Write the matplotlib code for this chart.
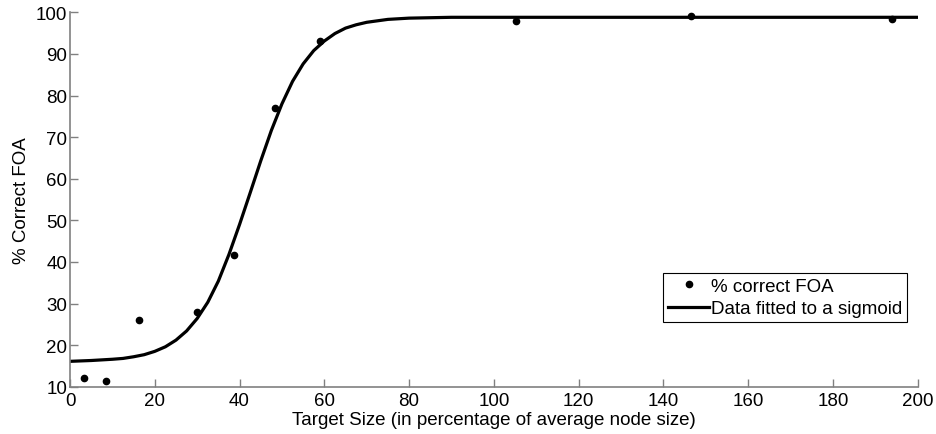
import matplotlib
matplotlib.use("Agg")
import matplotlib.pyplot as plt

# measured points (% correct FOA vs target size)
target_size = [3.3, 8.5, 16.2, 30.0, 38.8, 48.4, 59.0, 105.3, 146.4, 193.9]
pct_correct = [12.0, 11.4, 26.0, 28.0, 41.7, 76.9, 93.0, 97.9, 99.0, 98.4]

# fitted sigmoid
fit_x = [0, 5, 10, 12.5, 15, 17.5, 20, 22.5, 25, 27.5, 30, 32.5, 35, 37.5,
         40, 42.5, 45, 47.5, 50, 52.5, 55, 57.5, 60, 62.5, 65, 67.5, 70, 75,
         80, 90, 100, 120, 140, 160, 180, 200]
fit_y = [16.1, 16.3, 16.6, 16.8, 17.2, 17.7, 18.5, 19.6, 21.2, 23.4, 26.4,
         30.3, 35.4, 41.8, 49.0, 56.6, 64.3, 71.6, 78.0, 83.4, 87.6, 90.8,
         93.1, 94.9, 96.2, 97.0, 97.6, 98.3, 98.6, 98.8, 98.8, 98.8, 98.8,
         98.8, 98.8, 98.8]

plt.rcParams["font.family"] = ["Liberation Sans", "DejaVu Sans"]
plt.rcParams["font.size"] = 13.5

fig = plt.figure(figsize=(9.36, 4.35), dpi=100)
ax = fig.add_axes([0.0748, 0.1087, 0.9057, 0.8607])

ax.plot(target_size, pct_correct, "o", color="black", ms=4.5,
        label="% correct FOA")
ax.plot(fit_x, fit_y, "-", color="black", lw=2.3,
        label="Data fitted to a sigmoid")

ax.set_xlim(0, 200)
ax.set_ylim(10, 100)
ax.set_xticks(range(0, 201, 20))
ax.set_yticks(range(10, 101, 10))
ax.set_xlabel("Target Size (in percentage of average node size)", labelpad=1)
ax.set_ylabel("% Correct FOA", labelpad=4)

for side in ("top", "right"):
    ax.spines[side].set_visible(False)
for side in ("left", "bottom"):
    ax.spines[side].set_color("#808080")
    ax.spines[side].set_linewidth(1.2)
ax.tick_params(direction="in", length=5.5, width=1, color="#808080",
               labelcolor="black", pad=2)
ax.tick_params(axis="x", pad=4)

leg = ax.legend(loc="lower right", bbox_to_anchor=(0.9874, 0.1728),
                borderaxespad=0, fancybox=False, framealpha=1,
                edgecolor="black", handlelength=2.2, handletextpad=0.1,
                borderpad=0.25, labelspacing=0.3)
leg.get_frame().set_linewidth(0.8)

fig.savefig("out.png", dpi=100)
